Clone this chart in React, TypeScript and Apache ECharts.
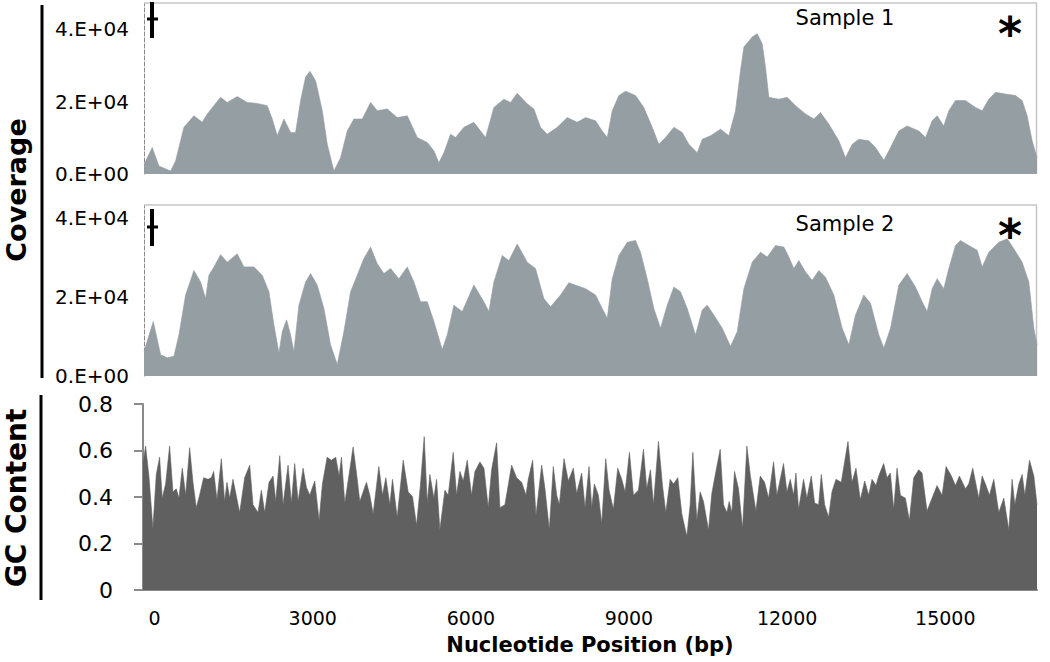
import React, { useEffect, useRef } from "react";
import * as echarts from "echarts";

// Tick values
const xTickValues = [0, 3000, 6000, 9000, 12000, 15000];
const coverageTickValues = [0, 20000, 40000];
const gcTickValues = [0, 0.2, 0.4, 0.6, 0.8];

// Panel titles
const panelTitles = ["Sample 1", "Sample 2"];

// [position (bp), coverage]
const sample1Coverage: [number, number][] = [
  [-220, 2700], [-63, 7300], [63, 2200], [285, 830], [380, 3600], [538, 12900], [728, 16100], [886, 14300],
  [981, 16600], [1234, 21200], [1361, 19800], [1551, 21400], [1741, 19800], [1931, 19500], [2121, 18900],
  [2216, 15200], [2311, 10600], [2437, 15200], [2564, 11500], [2659, 11500], [2754, 20300], [2849, 26800],
  [2931, 28400], [3039, 25800], [3166, 17500], [3261, 8200], [3387, 830], [3513, 4500], [3640, 11900],
  [3766, 15200], [3925, 15200], [4083, 19800], [4210, 17500], [4400, 18000], [4590, 15600], [4780, 16100],
  [4970, 10100], [5160, 8700], [5286, 6400], [5381, 3100], [5476, 5900], [5602, 11000], [5697, 10100],
  [5855, 12900], [6045, 14300], [6267, 10100], [6425, 18400], [6615, 20700], [6741, 19800], [6868, 22300],
  [7058, 19400], [7184, 18000], [7311, 12900], [7438, 11000], [7628, 12900], [7818, 15600], [8008, 14300],
  [8166, 15600], [8356, 14700], [8483, 11900], [8578, 10100], [8673, 17500], [8799, 21700], [8926, 22900],
  [9115, 21700], [9273, 18400], [9432, 12900], [9558, 8200], [9685, 10100], [9843, 12900], [10002, 11500],
  [10128, 8200], [10287, 5900], [10382, 9600], [10540, 10600], [10730, 12400], [10888, 10600], [11014, 17500],
  [11109, 28600], [11173, 35100], [11331, 37900], [11426, 38800], [11521, 36000], [11584, 29500], [11647, 21200],
  [11837, 20700], [11995, 21200], [12154, 18900], [12344, 16600], [12502, 15200], [12628, 17000], [12786, 13800],
  [12976, 9200], [13103, 4500], [13230, 8200], [13356, 9600], [13546, 9200], [13673, 7300], [13831, 3800],
  [13958, 7300], [14116, 11900], [14274, 13300], [14496, 11900], [14622, 10100], [14749, 14700], [14844, 16100],
  [14970, 13300], [15065, 17500], [15192, 20300], [15382, 20300], [15572, 18400], [15699, 17500], [15825, 20700],
  [15952, 22600], [16142, 22100], [16332, 21700], [16458, 20300], [16553, 16100], [16648, 9200], [16740, 4500],
];

const sample2Coverage: [number, number][] = [
  [-220, 6200], [-44, 13800], [95, 5400], [222, 4600], [348, 5000], [443, 10400], [570, 20500], [728, 26700],
  [855, 23800], [950, 19600], [1013, 25500], [1108, 27600], [1234, 30700], [1361, 28800], [1551, 30900],
  [1678, 27600], [1868, 27600], [2026, 25500], [2153, 21300], [2248, 12900], [2343, 5800], [2406, 11200],
  [2488, 14200], [2564, 10400], [2627, 6200], [2722, 17900], [2849, 23800], [2944, 25900], [3070, 23000],
  [3197, 17100], [3323, 7900], [3450, 2900], [3576, 11200], [3703, 21300], [3830, 25500], [3956, 29700],
  [4083, 32600], [4210, 28400], [4336, 25900], [4463, 27200], [4621, 24600], [4780, 27600], [4906, 23800],
  [5032, 18800], [5160, 18800], [5286, 13800], [5444, 6700], [5539, 10400], [5665, 17900], [5824, 16300],
  [6045, 23000], [6235, 18800], [6330, 16300], [6425, 23800], [6584, 30500], [6710, 29200], [6868, 33400],
  [7058, 28800], [7216, 27200], [7374, 19600], [7501, 17500], [7691, 20500], [7849, 23600],
  [8166, 22100], [8356, 20500], [8483, 17100], [8578, 14600], [8673, 24600], [8799, 30500], [8958, 33800],
  [9115, 34300], [9210, 31300], [9337, 24600], [9463, 17100], [9590, 12100], [9717, 17900], [9843, 22500],
  [9970, 21300], [10097, 17100], [10255, 10400], [10382, 16700], [10477, 17900], [10603, 15400], [10762, 12100],
  [10919, 7500], [11046, 11200], [11173, 22100], [11331, 28800], [11489, 31300], [11616, 30100], [11774, 33000],
  [11932, 32600], [12027, 30100], [12122, 27200], [12217, 29200], [12344, 26300], [12470, 24200], [12597, 26700],
  [12723, 25000], [12881, 20500], [13040, 12100], [13166, 7900], [13293, 15400], [13451, 20500], [13578, 18400],
  [13736, 10400], [13831, 7100], [13958, 12100], [14116, 23000], [14274, 25900], [14432, 22500], [14559, 18800],
  [14654, 16300], [14749, 22100], [14844, 24600], [14970, 22100], [15065, 27200], [15192, 33000], [15287, 34300],
  [15445, 33000], [15604, 31800], [15699, 27600], [15825, 31300], [16015, 33800], [16174, 34700], [16300, 32200],
  [16458, 28800], [16585, 23800], [16680, 12100], [16740, 7900],
];

// [position (bp), GC fraction]
const gcContent: [number, number][] = [
  [-220, 0.544], [-171, 0.619], [-108, 0.49], [-32, 0.265], [32, 0.497], [95, 0.571], [145, 0.395], [209, 0.456],
  [285, 0.619], [348, 0.422], [411, 0.435], [462, 0.395], [525, 0.524], [589, 0.408], [665, 0.612], [728, 0.463],
  [791, 0.354], [854, 0.408], [930, 0.483], [1013, 0.476], [1076, 0.483], [1120, 0.51], [1184, 0.388], [1266, 0.565],
  [1329, 0.381], [1373, 0.463], [1424, 0.395], [1487, 0.476], [1614, 0.333], [1709, 0.483], [1804, 0.537],
  [1867, 0.367], [1962, 0.333], [2025, 0.429], [2089, 0.333], [2171, 0.463], [2247, 0.49], [2298, 0.381],
  [2374, 0.578], [2437, 0.367], [2532, 0.537], [2595, 0.374], [2658, 0.544], [2722, 0.381], [2817, 0.524],
  [2880, 0.442], [2943, 0.408], [3038, 0.469], [3121, 0.299], [3184, 0.456], [3273, 0.571], [3355, 0.558],
  [3437, 0.571], [3500, 0.49], [3545, 0.571], [3608, 0.374], [3690, 0.497], [3766, 0.615], [3830, 0.503],
  [3893, 0.381], [3956, 0.422], [4019, 0.463], [4083, 0.408], [4146, 0.327], [4254, 0.531], [4323, 0.408],
  [4387, 0.483], [4463, 0.367], [4513, 0.476], [4602, 0.313], [4716, 0.558], [4811, 0.422], [4893, 0.401],
  [4969, 0.279], [5045, 0.456], [5115, 0.66], [5172, 0.374], [5222, 0.497], [5298, 0.395], [5349, 0.476],
  [5412, 0.259], [5507, 0.429], [5570, 0.408], [5665, 0.592], [5729, 0.408], [5792, 0.51], [5855, 0.469],
  [5931, 0.558], [6013, 0.408], [6077, 0.51], [6172, 0.551], [6248, 0.524], [6330, 0.354], [6393, 0.517],
  [6488, 0.633], [6551, 0.354], [6646, 0.367], [6773, 0.537], [6868, 0.483], [6963, 0.463], [7045, 0.408],
  [7089, 0.476], [7172, 0.558], [7235, 0.32], [7343, 0.537], [7406, 0.435], [7488, 0.259], [7564, 0.531],
  [7628, 0.408], [7678, 0.367], [7767, 0.565], [7849, 0.469], [7944, 0.524], [8007, 0.415], [8102, 0.503],
  [8166, 0.354], [8242, 0.531], [8293, 0.354], [8343, 0.456], [8419, 0.408], [8483, 0.286], [8558, 0.565],
  [8622, 0.429], [8704, 0.347], [8786, 0.524], [8862, 0.476], [8926, 0.422], [9008, 0.592], [9084, 0.408],
  [9179, 0.429], [9274, 0.605], [9337, 0.435], [9407, 0.517], [9464, 0.367], [9559, 0.639], [9635, 0.449],
  [9698, 0.333], [9780, 0.476], [9843, 0.456], [9926, 0.483], [10002, 0.327], [10097, 0.231], [10160, 0.367],
  [10211, 0.592], [10287, 0.299], [10350, 0.422], [10413, 0.381], [10508, 0.258], [10571, 0.415], [10666, 0.531],
  [10730, 0.605], [10793, 0.367], [10856, 0.333], [10901, 0.381], [10951, 0.333], [11002, 0.51], [11078, 0.435],
  [11154, 0.265], [11236, 0.619], [11299, 0.497], [11407, 0.34], [11489, 0.49], [11572, 0.463], [11648, 0.395],
  [11742, 0.551], [11806, 0.408], [11932, 0.544], [11996, 0.422], [12059, 0.476], [12122, 0.408], [12167, 0.503],
  [12217, 0.347], [12312, 0.476], [12375, 0.395], [12458, 0.49], [12521, 0.374], [12597, 0.367], [12648, 0.497],
  [12711, 0.367], [12787, 0.313], [12850, 0.422], [12926, 0.476], [13027, 0.463], [13154, 0.639], [13230, 0.463],
  [13306, 0.524], [13388, 0.388], [13471, 0.469], [13547, 0.408], [13610, 0.476], [13686, 0.449], [13736, 0.49],
  [13831, 0.544], [13895, 0.483], [13958, 0.503], [14021, 0.347], [14085, 0.524], [14148, 0.408], [14243, 0.395],
  [14319, 0.299], [14401, 0.483], [14496, 0.517], [14559, 0.503], [14654, 0.34], [14749, 0.395], [14844, 0.449],
  [14939, 0.408], [15015, 0.531], [15116, 0.49], [15192, 0.449], [15268, 0.49], [15382, 0.435], [15445, 0.456],
  [15521, 0.524], [15635, 0.395], [15699, 0.49], [15762, 0.456], [15838, 0.408], [15920, 0.476], [16015, 0.333],
  [16110, 0.395], [16205, 0.258], [16268, 0.476], [16319, 0.367], [16395, 0.456], [16458, 0.497], [16509, 0.408],
  [16598, 0.558], [16680, 0.49], [16740, 0.367],
];

const X_MIN = -220;
const X_MAX = 16740;
const FONT = "DejaVu Sans";
const COV_COLOR = "#959ea3";
const GC_COLOR = "#606060";

function sciLabel(v: number): string {
  if (v === 0) return "0.E+00";
  const e = Math.floor(Math.log10(v));
  const m = Math.round(v / Math.pow(10, e));
  return `${m}.E+${e < 10 ? "0" + e : e}`;
}

export default function App() {
  const ref = useRef<HTMLDivElement>(null);

  useEffect(() => {
    if (!ref.current) return;
    const chart = echarts.init(ref.current, undefined, { renderer: "svg" });

    const grids = [
      { left: 144, right: 13, top: 4, height: 170 },
      { left: 144, right: 13, top: 206, height: 170 },
      { left: 143, right: 13, top: 404, height: 186 },
    ];

    const hiddenX = (i: number) => ({
      type: "value",
      gridIndex: i,
      min: X_MIN,
      max: X_MAX,
      axisLine: { show: false },
      axisTick: { show: false },
      axisLabel: { show: false },
      splitLine: { show: false },
    });

    const covY = (i: number, max: number) => ({
      type: "value",
      gridIndex: i,
      min: 0,
      max,
      interval: 20000,
      axisLine: { show: true, onZero: false, lineStyle: { color: "#8a8a8a", type: "dashed", width: 1 } },
      axisTick: { show: false },
      splitLine: { show: false },
      axisLabel: {
        showMaxLabel: false,
        margin: 15,
        color: "#000",
        fontFamily: FONT,
        fontSize: 20,
        formatter: (v: number) => (coverageTickValues.includes(v) ? sciLabel(v) : ""),
      },
    });

    const option: any = {
      animation: false,
      backgroundColor: "#ffffff",
      grid: grids,
      xAxis: [
        hiddenX(0),
        hiddenX(1),
        {
          type: "value",
          gridIndex: 2,
          min: X_MIN,
          max: X_MAX,
          axisLine: { show: true, onZero: false, lineStyle: { color: "#8a8a8a", width: 2 } },
          axisTick: { show: false },
          splitLine: { show: false },
          axisLabel: {
            customValues: xTickValues,
            margin: 18,
            color: "#000",
            fontFamily: FONT,
            fontSize: 19,
            formatter: (v: number) => (xTickValues.includes(v) ? String(v) : ""),
          },
        },
      ],
      yAxis: [
        covY(0, 47000),
        covY(1, 43000),
        {
          type: "value",
          gridIndex: 2,
          min: 0,
          max: 0.8,
          interval: 0.2,
          axisLine: { show: true, onZero: false, lineStyle: { color: "#8a8a8a", width: 2 } },
          axisTick: { show: true, length: 9, lineStyle: { color: "#8a8a8a", width: 2 } },
          splitLine: { show: false },
          axisLabel: {
            margin: 30,
            color: "#000",
            fontFamily: FONT,
            fontSize: 22,
            formatter: (v: number) => {
              const t = gcTickValues.find((g) => Math.abs(g - v) < 1e-9);
              if (t === undefined) return "";
              return t === 0 ? "0" : t.toFixed(1);
            },
          },
        },
      ],
      series: [
        {
          type: "line",
          xAxisIndex: 0,
          yAxisIndex: 0,
          data: sample1Coverage,
          showSymbol: false,
          lineStyle: { width: 0.6, color: COV_COLOR },
          areaStyle: { color: COV_COLOR, opacity: 1 },
          silent: true,
        },
        {
          type: "line",
          xAxisIndex: 1,
          yAxisIndex: 1,
          data: sample2Coverage,
          showSymbol: false,
          lineStyle: { width: 0.6, color: COV_COLOR },
          areaStyle: { color: COV_COLOR, opacity: 1 },
          silent: true,
        },
        {
          type: "line",
          xAxisIndex: 2,
          yAxisIndex: 2,
          data: gcContent,
          showSymbol: false,
          lineStyle: { width: 0.6, color: GC_COLOR },
          areaStyle: { color: GC_COLOR, opacity: 1 },
          silent: true,
        },
      ],
      graphic: [
        // panel frames (top / right)
        { type: "line", shape: { x1: 144, y1: 3, x2: 1037, y2: 3 }, style: { stroke: "#d4d4d4", lineWidth: 2 } },
        { type: "line", shape: { x1: 1036.5, y1: 3, x2: 1036.5, y2: 174 }, style: { stroke: "#c4c4c4", lineWidth: 1.5 } },
        { type: "line", shape: { x1: 144, y1: 205, x2: 1037, y2: 205 }, style: { stroke: "#d4d4d4", lineWidth: 2 } },
        { type: "line", shape: { x1: 1036.5, y1: 205, x2: 1036.5, y2: 376 }, style: { stroke: "#c4c4c4", lineWidth: 1.5 } },
        // bracket lines
        { type: "line", shape: { x1: 42, y1: 5, x2: 42, y2: 378 }, style: { stroke: "#000", lineWidth: 3 } },
        { type: "line", shape: { x1: 41, y1: 395, x2: 41, y2: 600 }, style: { stroke: "#000", lineWidth: 3 } },
        // dagger marks
        { type: "line", shape: { x1: 152, y1: 2, x2: 152, y2: 38 }, style: { stroke: "#000", lineWidth: 4 } },
        { type: "line", shape: { x1: 147, y1: 19, x2: 158, y2: 19 }, style: { stroke: "#000", lineWidth: 3 } },
        { type: "line", shape: { x1: 152, y1: 209, x2: 152, y2: 246 }, style: { stroke: "#000", lineWidth: 4 } },
        { type: "line", shape: { x1: 147, y1: 227, x2: 158, y2: 227 }, style: { stroke: "#000", lineWidth: 3 } },
        // panel titles
        {
          type: "text", x: 845, y: 18,
          style: { text: panelTitles[0], fill: "#000", fontFamily: FONT, fontSize: 21, textAlign: "center", textVerticalAlign: "middle" },
        },
        {
          type: "text", x: 845, y: 224,
          style: { text: panelTitles[1], fill: "#000", fontFamily: FONT, fontSize: 21, textAlign: "center", textVerticalAlign: "middle" },
        },
        // asterisks
        {
          type: "text", x: 1010, y: 34,
          style: { text: "*", fill: "#000", fontFamily: FONT, fontWeight: "bold", fontSize: 46, textAlign: "center", textVerticalAlign: "middle" },
        },
        {
          type: "text", x: 1010, y: 236,
          style: { text: "*", fill: "#000", fontFamily: FONT, fontWeight: "bold", fontSize: 46, textAlign: "center", textVerticalAlign: "middle" },
        },
        // side titles
        {
          type: "text", x: 16, y: 190, rotation: Math.PI / 2,
          style: { text: "Coverage", fill: "#000", fontFamily: FONT, fontWeight: "bold", fontSize: 27, textAlign: "center", textVerticalAlign: "middle" },
        },
        {
          type: "text", x: 16, y: 498, rotation: Math.PI / 2,
          style: { text: "GC Content", fill: "#000", fontFamily: FONT, fontWeight: "bold", fontSize: 28, textAlign: "center", textVerticalAlign: "middle" },
        },
        // x axis title
        {
          type: "text", x: 590, y: 645,
          style: { text: "Nucleotide Position (bp)", fill: "#000", fontFamily: FONT, fontWeight: "bold", fontSize: 21, textAlign: "center", textVerticalAlign: "middle" },
        },
      ],
    };

    chart.setOption(option);
    return () => chart.dispose();
  }, []);

  return (
    <div
      ref={ref}
      style={{ position: "absolute", left: 0, top: 0, width: 1050, height: 662, background: "#fff" }}
    />
  );
}
